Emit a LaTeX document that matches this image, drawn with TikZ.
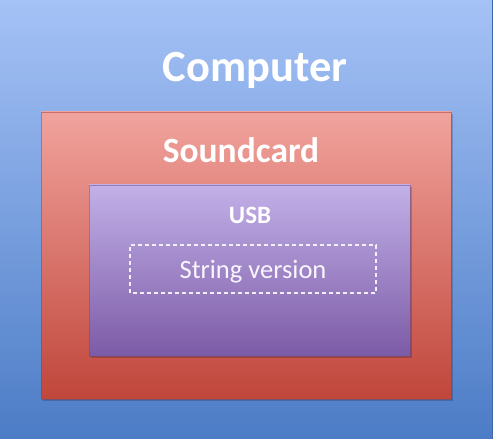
\documentclass[tikz,border=0pt]{standalone}
\usepackage{fontspec}
\setmainfont{Carlito}
\definecolor{bluetop}{HTML}{A5C2F6}
\definecolor{bluebot}{HTML}{4C7CC6}
\definecolor{redtop}{HTML}{F1A39D}
\definecolor{redbot}{HTML}{C0463B}
\definecolor{purtop}{HTML}{C2B0E8}
\definecolor{purbot}{HTML}{7C5BA6}
\tikzset{
  x=1pt,y=1pt,
  lbl/.style={text=white, inner sep=0pt, anchor=base},
  shd/.style={fill=black, opacity=0.18},
}
\begin{document}
\begin{tikzpicture}
\useasboundingbox (0,0) rectangle (496,439);
\fill[white] (0,0) rectangle (496,439);
\shade[top color=bluetop, bottom color=bluebot] (0,0) rectangle (492,439);
\draw[bluebot!85!black, line width=0.6pt] (492,0) -- (492,439);
\node[lbl, font=\fontsize{44.5}{48}\selectfont\bfseries] (computer) at (255,357) {Computer};
\fill[shd] (43,37.5) rectangle (453,325);
\shade[top color=redtop, bottom color=redbot] (41,40) rectangle (451,327);
\draw[redbot!85!black, opacity=0.5, line width=0.5pt] (41,40) rectangle (451,327);
\node[lbl, font=\fontsize{35.5}{40}\selectfont\bfseries] (soundcard) at (241,276) {Soundcard};
\fill[shd] (91,80.5) rectangle (412,252);
\shade[top color=purtop, bottom color=purbot] (89,83) rectangle (410,254);
\draw[purbot!85!black, opacity=0.5, line width=0.5pt] (89,83) rectangle (410,254);
\node[lbl, font=\fontsize{25}{28}\selectfont\bfseries] (usb) at (250,215) {USB};
\draw[white!80!purtop, line width=1.3pt, dash pattern=on 4pt off 3pt] (130,146) rectangle (376,194);
\node[lbl, text=white!88!purtop, font=\fontsize{26.5}{30}\selectfont] (sv) at (253,160) {String version};
\end{tikzpicture}
\end{document}
